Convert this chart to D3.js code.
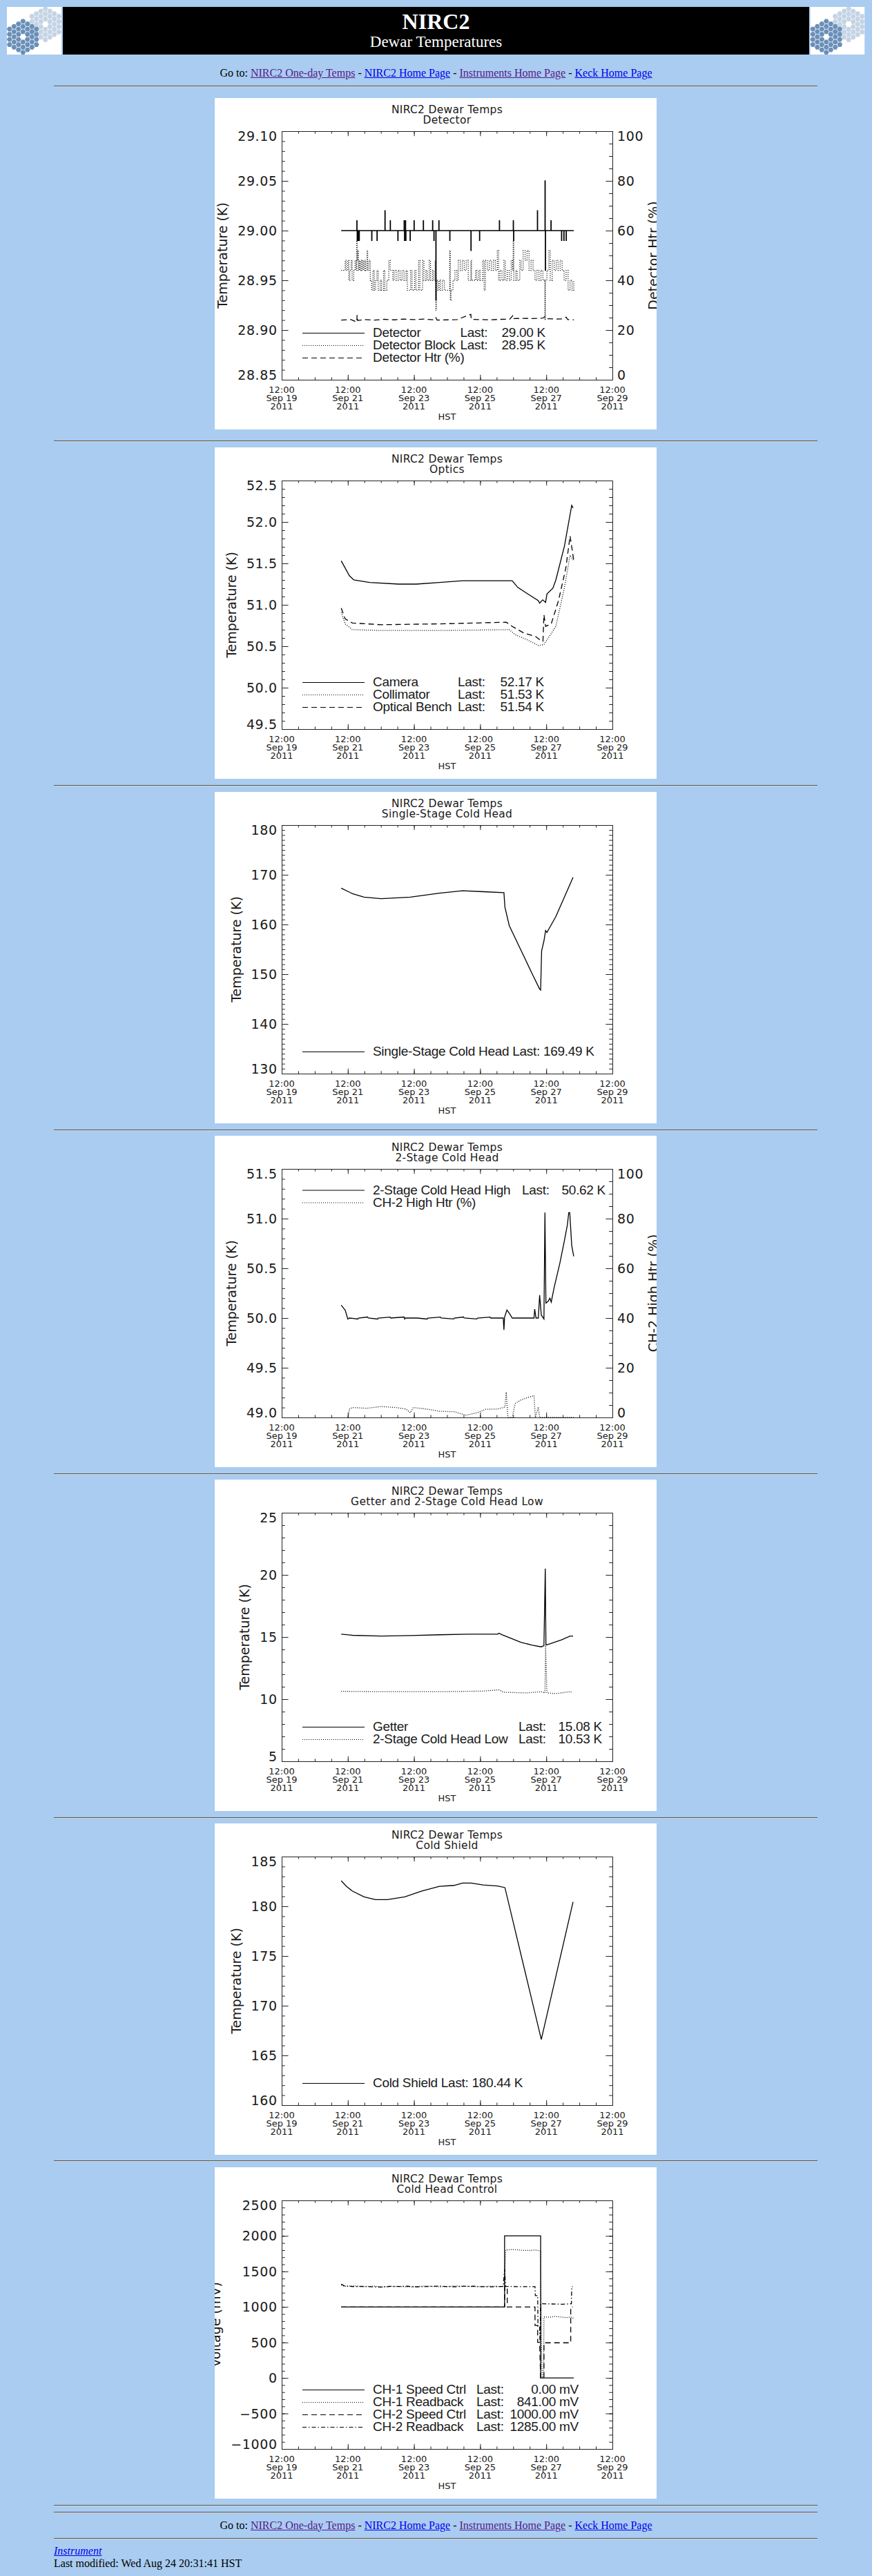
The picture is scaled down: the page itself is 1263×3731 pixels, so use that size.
<!DOCTYPE html>
<html>
<head>
<meta charset="utf-8">
<title>NIRC2 Dewar Temperatures</title>
<script src="https://cdn.jsdelivr.net/npm/d3@7"></script>
<style>
  html, body { margin: 0; padding: 0; background: #a9ccf0; }
  #page { position: relative; width: 1263px; height: 3731px; overflow: hidden;
          font-family: "Liberation Serif", "Times New Roman", serif; font-size: 16px; }
  .hr { position: absolute; left: 78px; width: 1106px; height: 0;
        border-top: 1px solid #565656; border-bottom: 1px solid #d6d6d6; }
  .line16 { position: absolute; line-height: 18px; white-space: nowrap; color: #000; }
  .goto { left: 0; width: 1263px; text-align: center; }
  a { color: #0000ee; }
  a.seen { color: #551a8b; }
  svg.plot { position: absolute; left: 311px; background: #fff; }
  svg text { fill: #1a1a1a; }
  .hershey { font-family: "DejaVu Sans", sans-serif; }
  .legend { font-family: "Liberation Sans", Arial, sans-serif; font-size: 19px; letter-spacing: -0.3px; }
</style>
</head>
<body>
<div id="page"></div>
<script>
// time axis: fractional day of September 2011 (HST)
const xTickDays = [19.5, 21.5, 23.5, 25.5, 27.5, 29.5];
const plotTitle = "NIRC2 Dewar Temps";

// ---- Detector ----
const detectorTemp = [
  [21.30, 29.00], [21.77, 29.01], [21.78, 28.99], [21.79, 29.00], [21.81, 28.99], [21.82, 29.00],
  [21.84, 28.99], [21.85, 29.00], [22.22, 28.99], [22.23, 29.00], [22.38, 28.99], [22.39, 29.00],
  [22.62, 29.02], [22.63, 29.00], [22.78, 29.01], [22.79, 29.00], [23.01, 28.99], [23.02, 29.00],
  [23.20, 29.01], [23.21, 28.99], [23.22, 29.00], [23.24, 29.01], [23.25, 28.99], [23.26, 29.00],
  [23.38, 28.99], [23.39, 29.00], [23.50, 29.01], [23.51, 29.00], [23.78, 29.01], [23.79, 29.00],
  [24.06, 29.01], [24.07, 29.00], [24.10, 28.99], [24.11, 29.00], [24.16, 28.93], [24.17, 29.00],
  [24.25, 29.01], [24.26, 29.00], [24.58, 28.99], [24.59, 29.00], [25.22, 28.98], [25.23, 29.00],
  [25.48, 28.99], [25.49, 29.00], [26.08, 29.01], [26.09, 29.00], [26.50, 29.01], [26.51, 28.99],
  [26.52, 29.00], [27.23, 29.02], [27.24, 29.00], [27.46, 29.05], [27.47, 28.96], [27.48, 29.00],
  [27.64, 29.01], [27.65, 29.00], [27.96, 28.99], [27.97, 29.00], [28.03, 28.99], [28.04, 29.00],
  [28.10, 28.99], [28.11, 29.00], [28.33, 29.00]
];
const detectorBlockTemp = [
  [21.30, 28.96], [21.42, 28.97], [21.45, 28.96], [21.50, 28.97], [21.53, 28.95], [21.56, 28.96],
  [21.60, 28.97], [21.63, 28.95], [21.68, 28.96], [21.72, 28.97], [21.75, 28.96], [21.77, 28.99],
  [21.78, 28.97], [21.80, 28.98], [21.82, 28.96], [21.84, 28.97], [21.86, 28.96], [21.89, 28.97],
  [21.92, 28.96], [21.95, 28.97], [21.98, 28.96], [22.01, 28.97], [22.04, 28.96], [22.08, 28.98],
  [22.10, 28.96], [22.14, 28.97], [22.18, 28.95], [22.22, 28.94], [22.26, 28.96], [22.30, 28.94],
  [22.34, 28.95], [22.38, 28.96], [22.42, 28.94], [22.48, 28.95], [22.52, 28.94], [22.58, 28.96],
  [22.62, 28.94], [22.68, 28.95], [22.74, 28.97], [22.78, 28.96], [22.86, 28.95], [22.90, 28.96],
  [22.96, 28.95], [23.02, 28.96], [23.08, 28.95], [23.14, 28.96], [23.20, 28.95], [23.26, 28.96],
  [23.30, 28.94], [23.40, 28.96], [23.44, 28.94], [23.52, 28.96], [23.56, 28.94], [23.64, 28.97],
  [23.68, 28.94], [23.76, 28.97], [23.80, 28.95], [23.86, 28.96], [23.90, 28.95], [23.96, 28.97],
  [24.00, 28.95], [24.06, 28.96], [24.10, 28.95], [24.14, 28.97], [24.16, 28.92], [24.18, 28.95],
  [24.22, 28.94], [24.26, 28.95], [24.30, 28.94], [24.36, 28.95], [24.42, 28.94], [24.50, 28.94],
  [24.58, 28.98], [24.60, 28.93], [24.62, 28.94], [24.68, 28.95], [24.74, 28.96], [24.80, 28.95],
  [24.84, 28.97], [24.90, 28.96], [24.96, 28.97], [25.02, 28.96], [25.08, 28.97], [25.14, 28.95],
  [25.22, 28.97], [25.24, 28.95], [25.36, 28.96], [25.40, 28.95], [25.46, 28.96], [25.50, 28.95],
  [25.58, 28.97], [25.62, 28.94], [25.66, 28.97], [25.72, 28.96], [25.78, 28.97], [25.84, 28.96],
  [25.90, 28.97], [25.96, 28.96], [26.02, 28.98], [26.06, 28.95], [26.10, 28.96], [26.16, 28.95],
  [26.22, 28.97], [26.26, 28.95], [26.32, 28.96], [26.38, 28.95], [26.44, 28.97], [26.48, 28.96],
  [26.50, 28.99], [26.52, 28.95], [26.58, 28.96], [26.62, 28.95], [26.70, 28.97], [26.74, 28.96],
  [26.80, 28.98], [26.86, 28.97], [26.92, 28.98], [26.98, 28.96], [27.04, 28.97], [27.10, 28.96],
  [27.16, 28.95], [27.22, 28.96], [27.28, 28.95], [27.34, 28.96], [27.40, 28.95], [27.46, 28.91],
  [27.47, 28.95], [27.52, 28.96], [27.58, 28.98], [27.62, 28.95], [27.68, 28.97], [27.74, 28.96],
  [27.80, 28.97], [27.86, 28.96], [27.92, 28.97], [27.98, 28.96], [28.04, 28.95], [28.10, 28.96],
  [28.16, 28.94], [28.22, 28.95], [28.28, 28.94], [28.33, 28.95]
];
const detectorHtr = [
  [21.30, 24.0], [21.60, 24.2], [21.77, 23.2], [21.78, 26.0], [21.80, 23.8], [22.00, 24.2],
  [22.30, 24.0], [22.60, 24.3], [22.90, 24.1], [23.20, 24.4], [23.50, 24.2], [23.80, 24.4],
  [24.10, 24.1], [24.16, 25.0], [24.20, 24.0], [24.50, 24.1], [24.80, 24.2], [25.22, 26.3],
  [25.23, 24.3], [25.50, 24.2], [25.80, 24.1], [26.10, 24.3], [26.40, 24.4], [26.50, 26.0],
  [26.52, 24.6], [26.80, 24.7], [27.10, 24.6], [27.40, 24.8], [27.46, 25.4], [27.48, 24.6],
  [27.80, 24.4], [28.00, 24.5], [28.10, 25.2], [28.15, 24.2], [28.33, 24.1]
];
const detectorNames = ["Detector", "Detector Block", "Detector Htr (%)"];
const detectorLast = ["29.00 K", "28.95 K", null];

// ---- Optics ----
const cameraTemp = [
  [21.30, 51.53], [21.55, 51.35], [21.68, 51.30], [22.16, 51.27], [23.04, 51.25], [23.57, 51.25],
  [24.27, 51.27], [24.97, 51.29], [26.47, 51.29], [26.64, 51.21], [26.91, 51.14], [27.26, 51.05],
  [27.30, 51.02], [27.39, 51.06], [27.48, 51.03], [27.52, 51.13], [27.70, 51.20], [27.79, 51.30],
  [28.05, 51.71], [28.27, 52.20], [28.31, 52.17]
];
const collimatorTemp = [
  [21.30, 50.91], [21.42, 50.77], [21.64, 50.70], [22.51, 50.69], [24.27, 50.69], [26.38, 50.70],
  [26.56, 50.64], [26.91, 50.58], [27.26, 50.51], [27.43, 50.52], [27.79, 50.74], [28.05, 51.21],
  [28.22, 51.60], [28.33, 51.53]
];
const benchTemp = [
  [21.30, 50.96], [21.42, 50.83], [21.64, 50.78], [22.51, 50.76], [24.27, 50.77], [26.29, 50.79],
  [26.47, 50.74], [26.82, 50.66], [27.17, 50.62], [27.30, 50.58], [27.40, 50.56], [27.43, 50.88],
  [27.48, 50.74], [27.65, 50.77], [27.87, 51.05], [28.09, 51.44], [28.22, 51.83], [28.33, 51.54]
];
const opticsNames = ["Camera", "Collimator", "Optical Bench"];
const opticsLast = ["52.17 K", "51.53 K", "51.54 K"];

// ---- Single-stage cold head ----
const singleStageTemp = [
  [21.30, 167.3], [21.64, 166.2], [21.99, 165.5], [22.51, 165.2], [23.39, 165.5], [24.27, 166.3],
  [24.97, 166.8], [25.59, 166.6], [26.22, 166.4], [26.25, 163.5], [26.38, 159.8], [26.73, 154.9],
  [27.08, 150.0], [27.30, 147.0], [27.33, 146.8], [27.36, 154.7], [27.43, 156.7], [27.48, 158.8],
  [27.52, 158.4], [27.79, 161.6], [28.31, 169.49]
];
const singleStageNames = ["Single-Stage Cold Head"];
const singleStageLast = ["169.49 K"];

// ---- 2-stage cold head ----
const twoStageHighTemp = [
  [21.30, 50.13], [21.37, 50.10], [21.42, 50.08], [21.50, 49.99], [21.55, 50.00], [21.80, 49.99],
  [21.82, 50.00], [22.10, 50.01], [22.12, 50.00], [22.40, 49.99], [22.42, 50.00], [22.78, 50.01],
  [22.80, 50.00], [23.20, 50.01], [23.22, 49.99], [23.24, 50.00], [23.60, 50.00], [23.90, 49.99],
  [23.92, 50.00], [24.30, 50.01], [24.32, 50.00], [24.70, 49.99], [24.72, 50.00], [25.00, 50.01],
  [25.02, 50.00], [25.40, 49.99], [25.42, 50.00], [25.80, 50.01], [25.82, 50.00], [26.20, 50.00],
  [26.22, 49.88], [26.24, 50.01], [26.31, 50.08], [26.38, 50.05], [26.47, 50.00], [27.13, 50.00],
  [27.15, 50.09], [27.19, 50.00], [27.26, 50.00], [27.30, 50.23], [27.35, 50.03], [27.43, 49.99],
  [27.46, 51.06], [27.49, 50.15], [27.56, 50.17], [27.61, 50.20], [27.65, 50.16], [27.74, 50.31],
  [27.91, 50.55], [28.05, 50.78], [28.14, 50.94], [28.18, 51.06], [28.21, 51.06], [28.27, 50.73],
  [28.33, 50.62]
];
const ch2HighHtr = [
  [21.50, 0.0], [21.55, 3.3], [21.64, 4.0], [22.07, 3.7], [22.51, 4.4], [22.95, 4.0], [23.26, 3.4],
  [23.39, 1.9], [23.48, 4.0], [23.92, 3.3], [24.27, 2.5], [24.71, 2.3], [25.07, 0.9], [25.41, 1.9],
  [25.67, 3.3], [26.03, 3.4], [26.25, 4.2], [26.29, 10.2], [26.34, 0.0], [26.47, 0.0], [26.56, 5.6],
  [26.73, 7.0], [26.91, 7.9], [27.13, 8.8], [27.17, 0.0], [27.26, 4.2], [27.30, 0.0], [28.33, 0.0]
];
const twoStageNames = ["2-Stage Cold Head High", "CH-2 High Htr (%)"];
const twoStageLast = ["50.62 K", null];

// ---- Getter and 2-stage cold head low ----
const getterTemp = [
  [21.30, 15.23], [21.64, 15.14], [22.51, 15.08], [23.39, 15.12], [24.27, 15.18], [25.15, 15.23],
  [26.03, 15.23], [26.07, 15.31], [26.16, 15.19], [26.38, 14.95], [26.73, 14.58], [27.08, 14.34],
  [27.35, 14.21], [27.43, 14.30], [27.47, 20.50], [27.49, 14.36], [27.61, 14.45], [27.96, 14.77],
  [28.22, 15.08], [28.31, 15.08]
];
const twoStageLowTemp = [
  [21.30, 10.63], [22.51, 10.60], [24.27, 10.60], [25.59, 10.65], [26.07, 10.75], [26.20, 10.56],
  [26.91, 10.50], [27.35, 10.60], [27.46, 10.50], [27.48, 14.30], [27.52, 10.50], [27.79, 10.45],
  [28.22, 10.60], [28.29, 10.53]
];
const getterNames = ["Getter", "2-Stage Cold Head Low"];
const getterLast = ["15.08 K", "10.53 K"];

// ---- Cold shield ----
const coldShieldTemp = [
  [21.30, 182.57], [21.46, 182.00], [21.64, 181.53], [21.99, 180.95], [22.34, 180.67], [22.69, 180.67],
  [23.22, 180.95], [23.74, 181.53], [24.27, 182.00], [24.71, 182.10], [24.97, 182.34], [25.23, 182.34],
  [25.59, 182.15], [26.03, 182.04], [26.25, 181.88], [27.35, 166.60], [28.31, 180.44]
];
const coldShieldNames = ["Cold Shield"];
const coldShieldLast = ["180.44 K"];

// ---- Cold head control (mV) ----
const ch1SpeedCtrl = [
  [21.30, 1000], [26.24, 1000], [26.24, 2000], [27.33, 2000], [27.33, 0], [28.33, 0]
];
const ch1Readback = [
  [21.30, 1310], [21.40, 1290], [21.70, 1296], [22.00, 1285], [22.30, 1292], [22.50, 1280],
  [22.80, 1288], [23.00, 1290], [23.30, 1283], [23.50, 1285], [23.80, 1293], [24.00, 1290],
  [24.30, 1284], [24.50, 1288], [24.80, 1295], [25.00, 1292], [25.30, 1286], [25.50, 1285],
  [25.80, 1291], [26.00, 1290], [26.20, 1285], [26.24, 1300], [26.27, 1800], [26.45, 1808],
  [26.60, 1805], [26.80, 1797], [27.00, 1795], [27.15, 1802], [27.33, 1790], [27.35, 480],
  [27.38, 0], [27.42, 0], [27.43, 860], [27.60, 855], [27.75, 866], [27.90, 860], [28.10, 850],
  [28.25, 858], [28.32, 841]
];
const ch2SpeedCtrl = [
  [21.30, 1000], [26.24, 1000], [26.25, 1290], [26.32, 1290], [26.32, 1000], [27.16, 1000],
  [27.16, 740], [27.24, 740], [27.24, 500], [27.30, 500], [27.33, 0], [27.43, 0], [27.43, 495],
  [28.24, 495], [28.24, 1000], [28.30, 1000]
];
const ch2Readback = [
  [21.30, 1320], [21.40, 1295], [21.70, 1286], [22.00, 1290], [22.30, 1282], [22.50, 1280],
  [22.80, 1291], [23.00, 1288], [23.30, 1292], [23.50, 1282], [23.80, 1286], [24.00, 1290],
  [24.30, 1293], [24.50, 1286], [24.80, 1284], [25.00, 1290], [25.30, 1292], [25.50, 1287],
  [25.80, 1283], [26.00, 1285], [26.20, 1290], [26.24, 1530], [26.27, 1290], [26.60, 1286],
  [27.16, 1285], [27.17, 1160], [27.24, 1160], [27.25, 730], [27.30, 730], [27.31, 500],
  [27.33, 1045], [27.60, 1042], [28.00, 1038], [28.26, 1045], [28.27, 1285], [28.30, 1285]
];
const controlNames = ["CH-1 Speed Ctrl", "CH-1 Readback", "CH-2 Speed Ctrl", "CH-2 Readback"];
const controlLast = ["0.00 mV", "841.00 mV", "1000.00 mV", "1285.00 mV"];

const sepDay = d => new Date(Date.UTC(2011, 8, 1) + (d - 1) * 864e5);

const DASH = { solid: null, dotted: "1,2", dashed: "8,5", dashdot: "6,3,1.5,3" };
const HTR_AXIS = { label: null, domain: [0, 100], step: 20, minor: 5, fmt: "d" };

const charts = [
  { top: 142, sub: "Detector", yLabel: "Temperature (K)", yDomain: [28.85, 29.10], step: 0.05, minor: 0.01, fmt: ".2f",
    right: { ...HTR_AXIS, label: "Detector Htr (%)" },
    series: [
      { data: detectorTemp, style: "solid", step: true },
      { data: detectorBlockTemp, style: "dotted", step: true },
      { data: detectorHtr, style: "dashed", right: true }],
    legend: { names: detectorNames, last: detectorLast, styles: ["solid", "dotted", "dashed"], pos: "bottom", lastX: 355.5, valEnd: 479 } },
  { top: 648, sub: "Optics", yLabel: "Temperature (K)", yDomain: [49.5, 52.5], step: 0.5, minor: 0.1, fmt: ".1f",
    series: [
      { data: cameraTemp, style: "solid" },
      { data: collimatorTemp, style: "dotted" },
      { data: benchTemp, style: "dashed" }],
    legend: { names: opticsNames, last: opticsLast, styles: ["solid", "dotted", "dashed"], pos: "bottom", lastX: 352, valEnd: 477 } },
  { top: 1146.5, sub: "Single-Stage Cold Head", yLabel: "Temperature (K)", yDomain: [130, 180], step: 10, minor: 1, fmt: "d",
    series: [{ data: singleStageTemp, style: "solid" }],
    legend: { names: singleStageNames, last: singleStageLast, styles: ["solid"], pos: "bottom" } },
  { top: 1645, sub: "2-Stage Cold Head", yLabel: "Temperature (K)", yDomain: [49.0, 51.5], step: 0.5, minor: 0.1, fmt: ".1f",
    right: { ...HTR_AXIS, label: "CH-2 High Htr (%)" },
    series: [
      { data: twoStageHighTemp, style: "solid" },
      { data: ch2HighHtr, style: "dotted", right: true }],
    legend: { names: twoStageNames, last: twoStageLast, styles: ["solid", "dotted"], pos: "top", lastX: 445, valEnd: 566 } },
  { top: 2143, sub: "Getter and 2-Stage Cold Head Low", yLabel: "Temperature (K)", yDomain: [5, 25], step: 5, minor: 1, fmt: "d",
    series: [
      { data: getterTemp, style: "solid" },
      { data: twoStageLowTemp, style: "dotted" }],
    legend: { names: getterNames, last: getterLast, styles: ["solid", "dotted"], pos: "bottom", lastX: 440, valEnd: 561 } },
  { top: 2641, sub: "Cold Shield", yLabel: "Temperature (K)", yDomain: [160, 185], step: 5, minor: 1, fmt: "d",
    series: [{ data: coldShieldTemp, style: "solid" }],
    legend: { names: coldShieldNames, last: coldShieldLast, styles: ["solid"], pos: "bottom" } },
  { top: 3139, sub: "Cold Head Control", yLabel: "Voltage (mV)", yDomain: [-1000, 2500], step: 500, minor: 100, fmt: "d",
    series: [
      { data: ch2Readback, style: "dashdot" },
      { data: ch2SpeedCtrl, style: "dashed" },
      { data: ch1Readback, style: "dotted" },
      { data: ch1SpeedCtrl, style: "solid" }],
    legend: { names: controlNames, last: controlLast, styles: ["solid", "dotted", "dashed", "dashdot"], pos: "bottom", lastX: 379, valEnd: 527 } }
];

const hrTops = [124, 638, 1137, 1635.5, 2134, 2632, 3129, 3628, 3638, 3676];

const page = d3.select("#page");

// ---------- header ----------
const head = page.append("svg")
  .attr("width", 1263).attr("height", 90)
  .style("position", "absolute").style("left", "0px").style("top", "0px");

head.append("rect").attr("x", 91).attr("y", 10).attr("width", 1081).attr("height", 69).attr("fill", "#000");
head.append("text").attr("x", 631.5).attr("y", 41.7).attr("text-anchor", "middle")
  .style("fill", "#fff").style("font", "bold 32px 'Liberation Serif', serif").text("NIRC2");
head.append("text").attr("x", 631.5).attr("y", 68.3).attr("text-anchor", "middle")
  .style("fill", "#fff").style("font", "23px 'Liberation Serif', serif").text("Dewar Temperatures");

// Keck logo: two 36-segment mirrors
function drawLogo(x0) {
  const g = head.append("svg").attr("x", x0).attr("y", 10).attr("width", 79).attr("height", 69);
  g.append("rect").attr("width", 79).attr("height", 69).attr("fill", "#fff");
  const s = 4.33;
  const cells = [];
  for (let q = -3; q <= 3; q++) {
    for (let r = -3; r <= 3; r++) {
      const k = -q - r;
      if (Math.max(Math.abs(q), Math.abs(r), Math.abs(k)) <= 3 && !(q === 0 && r === 0)) {
        cells.push([1.5 * s * q, Math.sqrt(3) * s * (r + q / 2)]);
      }
    }
  }
  const hex = d3.range(6).map(i => [3.9 * Math.cos(i * Math.PI / 3), 3.9 * Math.sin(i * Math.PI / 3)]);
  const hexPath = "M" + hex.map(p => p.join(",")).join("L") + "Z";
  [[55.7, 25, "#c4d4e5"], [23.3, 43.3, "#6a8fb9"]].forEach(([cx, cy, col]) => {
    g.append("g").attr("transform", `translate(${cx},${cy})`)
      .selectAll("path").data(cells).join("path")
      .attr("d", hexPath).attr("transform", d => `translate(${d[0]},${d[1]})`)
      .attr("fill", col);
  });
}
drawLogo(10);
drawLogo(1173.5);

// ---------- navigation text ----------
const navHtml = 'Go to: <a class="seen" href="#">NIRC2 One-day Temps</a> - ' +
  '<a href="#">NIRC2 Home Page</a> - <a class="seen" href="#">Instruments Home Page</a> - ' +
  '<a href="#">Keck Home Page</a>';
[111.7, 3663].forEach(base => {
  page.append("div").attr("class", "line16 goto").style("top", (base - 14.4) + "px").html(navHtml);
});
page.append("div").attr("class", "line16").style("left", "78px").style("top", (3700 - 14.4) + "px")
  .html('<a href="#"><i>Instrument</i></a>');
page.append("div").attr("class", "line16").style("left", "78px").style("top", (3718 - 14.4) + "px")
  .text("Last modified: Wed Aug 24 20:31:41 HST");

hrTops.forEach(t => page.append("div").attr("class", "hr").style("top", t + "px"));

// ---------- charts ----------
function tickRange(lo, hi, step) {
  const n = Math.round((hi - lo) / step);
  return d3.range(n + 1).map(i => +(lo + i * step).toFixed(6));
}

function drawChart(cfg) {
  const W = 640, H = 480, L = 97, R = 576, T = 48, B = 408;
  const CAP = 6.95;
  const svg = page.append("svg").attr("class", "plot")
    .attr("width", W).attr("height", H).style("top", cfg.top + "px");

  const x = d3.scaleUtc().domain([sepDay(19.5), sepDay(29.5)]).range([L, R]);
  const y = d3.scaleLinear().domain(cfg.yDomain).range([B, T]);
  const yr = cfg.right ? d3.scaleLinear().domain(cfg.right.domain).range([B, T]) : null;

  // titles
  svg.append("text").attr("class", "hershey").attr("x", (L + R) / 2).attr("y", 22)
    .attr("text-anchor", "middle").style("font-size", "15.5px").style("letter-spacing", "0.3px").text(plotTitle);
  svg.append("text").attr("class", "hershey").attr("x", (L + R) / 2).attr("y", 36.5)
    .attr("text-anchor", "middle").style("font-size", "15.5px").style("letter-spacing", "0.3px").text(cfg.sub);

  // ticks
  const ticks = svg.append("g").attr("color", "#222");
  const noDomain = g => g.select(".domain").remove();
  const xMajor = xTickDays.map(sepDay);
  const xMinor = tickRange(19.5, 29.5, 0.5).map(sepDay);
  [[xMinor, 3.6], [xMajor, 7.2]].forEach(([vals, len]) => {
    ticks.append("g").attr("transform", `translate(0,${B})`)
      .call(d3.axisBottom(x).tickValues(vals).tickSize(-len).tickFormat("")).call(noDomain);
    ticks.append("g").attr("transform", `translate(0,${T})`)
      .call(d3.axisTop(x).tickValues(vals).tickSize(-len).tickFormat("")).call(noDomain);
  });

  const [lo, hi] = cfg.yDomain;
  const yMajor = tickRange(lo, hi, cfg.step);
  const yMinor = tickRange(lo, hi, cfg.minor);
  [[yMinor, 4.8], [yMajor, 9.6]].forEach(([vals, len]) => {
    ticks.append("g").attr("transform", `translate(${L},0)`)
      .call(d3.axisLeft(y).tickValues(vals).tickSize(-len).tickFormat("")).call(noDomain);
    if (!cfg.right) {
      ticks.append("g").attr("transform", `translate(${R},0)`)
        .call(d3.axisRight(y).tickValues(vals).tickSize(-len).tickFormat("")).call(noDomain);
    }
  });
  if (cfg.right) {
    const rMajor = tickRange(cfg.right.domain[0], cfg.right.domain[1], cfg.right.step);
    const rMinor = tickRange(cfg.right.domain[0], cfg.right.domain[1], cfg.right.minor);
    [[rMinor, 4.8], [rMajor, 9.6]].forEach(([vals, len]) => {
      ticks.append("g").attr("transform", `translate(${R},0)`)
        .call(d3.axisRight(yr).tickValues(vals).tickSize(-len).tickFormat("")).call(noDomain);
    });
  }

  // plot box
  svg.append("rect").attr("x", L + 0.5).attr("y", T + 0.5).attr("width", R - L).attr("height", B - T)
    .attr("fill", "none").attr("stroke", "#222").attr("stroke-width", 1);

  const clampY = v => Math.max(T + CAP, Math.min(B - CAP, v));

  // y tick labels
  const fmt = d3.format(cfg.fmt);
  const yLabels = svg.append("g").attr("class", "hershey").style("font-size", "19px").style("letter-spacing", "0.6px");
  yLabels.selectAll("text").data(yMajor).join("text")
    .attr("x", 90.6).attr("y", v => clampY(y(v)) + CAP)
    .attr("text-anchor", "end").text(fmt);

  const bb = yLabels.node().getBBox();
  svg.append("text").attr("class", "hershey")
    .attr("transform", `translate(${bb.x - 15},${(T + B) / 2}) rotate(-90)`)
    .attr("text-anchor", "middle").style("font-size", "19px").text(cfg.yLabel);

  if (cfg.right) {
    const rMajor = tickRange(cfg.right.domain[0], cfg.right.domain[1], cfg.right.step);
    svg.append("g").attr("class", "hershey").style("font-size", "19px").style("letter-spacing", "0.6px")
      .selectAll("text").data(rMajor).join("text")
      .attr("x", 583).attr("y", v => clampY(yr(v)) + CAP)
      .text(d3.format(cfg.right.fmt));
    svg.append("text").attr("class", "hershey")
      .attr("transform", `translate(642,${(T + B) / 2}) rotate(-90)`)
      .attr("text-anchor", "middle").style("font-size", "19px").text(cfg.right.label);
  }

  // x tick labels
  const xLab = svg.append("g").attr("class", "hershey").style("font-size", "13px").attr("text-anchor", "middle");
  const lines = [d3.utcFormat("%H:%M"), d3.utcFormat("%b %d"), d3.utcFormat("%Y")];
  xMajor.forEach(d => {
    lines.forEach((f, i) => {
      xLab.append("text").attr("x", x(d)).attr("y", 427 + 12 * i).text(f(d));
    });
  });
  svg.append("text").attr("class", "hershey").attr("x", (L + R) / 2).attr("y", 466)
    .attr("text-anchor", "middle").style("font-size", "13px").text("HST");

  // data
  const clipId = "clip" + Math.round(cfg.top);
  svg.append("clipPath").attr("id", clipId).append("rect")
    .attr("x", L).attr("y", T).attr("width", R - L + 1).attr("height", B - T + 1);
  const dataG = svg.append("g").attr("clip-path", `url(#${clipId})`);
  cfg.series.forEach(s => {
    const ys = s.right ? yr : y;
    const line = d3.line()
      .x(d => x(sepDay(d[0])))
      .y(d => ys(d[1]))
      .curve(s.step ? d3.curveStepAfter : d3.curveLinear);
    dataG.append("path").datum(s.data)
      .attr("d", line)
      .attr("fill", "none")
      .attr("stroke", "#000")
      .attr("stroke-width", 1.3)
      .attr("stroke-dasharray", DASH[s.style]);
  });

  // legend
  const lg = cfg.legend;
  const n = lg.names.length;
  lg.names.forEach((name, i) => {
    const by = lg.pos === "top" ? 84.5 + 18 * i : 382 - 18 * (n - 1 - i);
    svg.append("line").attr("x1", 127).attr("x2", 217).attr("y1", by - 5.5).attr("y2", by - 5.5)
      .attr("stroke", "#000").attr("stroke-width", 1.2).attr("stroke-dasharray", DASH[lg.styles[i]]);
    const last = lg.last[i];
    if (last && lg.lastX == null) {
      svg.append("text").attr("class", "legend").attr("x", 229).attr("y", by).text(`${name} Last: ${last}`);
      return;
    }
    svg.append("text").attr("class", "legend").attr("x", 229).attr("y", by).text(name);
    if (last) {
      svg.append("text").attr("class", "legend").attr("x", lg.lastX).attr("y", by).text("Last:");
      svg.append("text").attr("class", "legend").attr("x", lg.valEnd).attr("y", by)
        .attr("text-anchor", "end").text(last);
    }
  });
}

charts.forEach(drawChart);
</script>
</body>
</html>
